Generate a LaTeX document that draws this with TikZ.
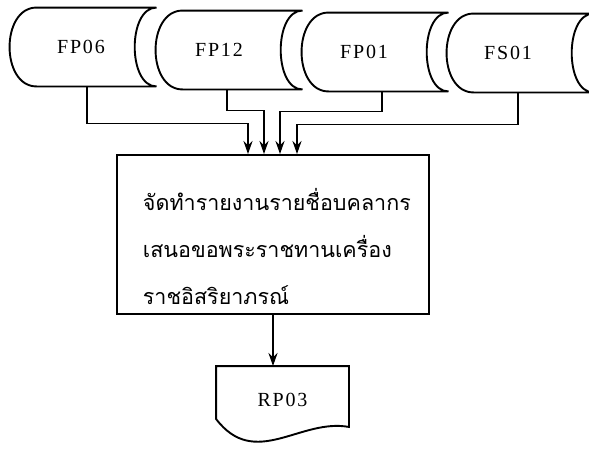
\documentclass[tikz,border=0pt]{standalone}
\usepackage{fontspec}
\setmainfont{Liberation Serif}
\newfontfamily\codefont[LetterSpace=9]{Liberation Serif}
\newfontfamily\thaifont[Script=Thai]{Loma}
\usetikzlibrary{arrows.meta}

\begin{document}
\begin{tikzpicture}[x=1pt,y=-1pt,>={Stealth[length=13pt,width=9pt]},
  line width=1.9pt,
  store/.style={minimum width=145pt,minimum height=77pt,inner sep=0pt,
    font=\codefont\fontsize{20}{22}\selectfont},
  procbox/.style={draw,minimum width=312pt,minimum height=159pt,inner sep=0pt},
  proctext/.style={align=left,inner sep=0pt,
    font=\thaifont\fontsize{21.5}{47}\selectfont},
  docbox/.style={minimum width=131pt,minimum height=66pt,inner sep=0pt,
    font=\codefont\fontsize{20}{22}\selectfont},
  arr/.style={->,line width=1.9pt},
]
\useasboundingbox (0,0) rectangle (589,450);

%% stored data files (labels sit a little left of centre)
\node[store] (fp06) at (83,47)  {FP06\hspace*{4pt}};
\node[store] (fp12) at (229,50) {FP12\hspace*{20pt}};
\node[store] (fp01) at (375,52) {FP01\hspace*{22pt}};
\node[store] (fs01) at (520,53) {FS01\hspace*{24pt}};

\foreach \n in {fp06,fp12,fp01,fs01}{
  \draw ([xshift=27pt]\n.north west)
    .. controls ([xshift=-9pt]\n.north west) and ([xshift=-9pt]\n.south west)
    .. ([xshift=27pt]\n.south west) -- (\n.south east)
    .. controls ([xshift=-29pt]\n.south east) and ([xshift=-29pt]\n.north east)
    .. (\n.north east) -- cycle;
}

%% process
\node[procbox] (proc) at (273,234.5) {};
\node[proctext,anchor=west] (desc) at (142,246)
  {จัดทำรายงานรายชื่อบคลากร\\เสนอขอพระราชทานเครื่อง\\ราชอิสริยาภรณ์};

%% report
\node[docbox] (rp03) at (282.5,400) {RP03};
\draw (rp03.north west) -- (rp03.north east) -- ([yshift=7pt]rp03.south east)
  .. controls (300,418) and (255,470) .. ([yshift=15pt]rp03.south west) -- cycle;

%% inputs
\draw[arr] ([xshift=4pt]fp06.south) -- ++(0,37) -| ([xshift=-25pt]proc.north);
\draw[arr] ([xshift=-2pt]fp12.south) -- ++(0,21) -| ([xshift=-9pt]proc.north);
\draw[arr] ([xshift=7pt]fp01.south) -- ++(0,20) -| ([xshift=7pt]proc.north);
\draw[arr] ([xshift=-2pt]fs01.south) -- ++(0,32) -| ([xshift=24pt]proc.north);

%% output
\draw[arr] (proc.south) -- (proc.south |- rp03.north);

\end{tikzpicture}
\end{document}
